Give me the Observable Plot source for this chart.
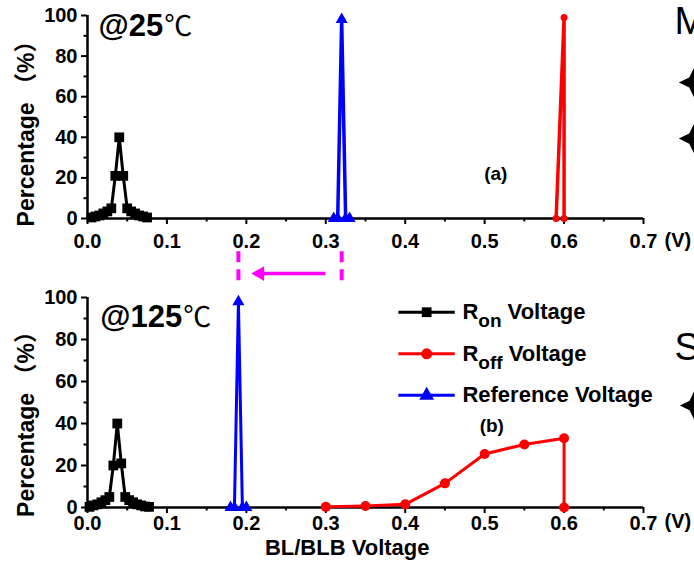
<!DOCTYPE html>
<html><head><meta charset="utf-8">
<script src="https://cdn.jsdelivr.net/npm/d3@7"></script>
<script src="https://cdn.jsdelivr.net/npm/@observablehq/plot@0.6"></script>
<style>
html,body{margin:0;padding:0;background:#fff;overflow:hidden;}
#wrap{position:relative;width:694px;height:561px;overflow:hidden;background:#fff;}
#wrap svg{position:absolute;left:0;}
</style></head><body><div id="wrap"></div>
<script>
// ---- ticks ----
const xTicks = [0, 0.1, 0.2, 0.3, 0.4, 0.5, 0.6, 0.7];
const xMinor = [0.05, 0.15, 0.25, 0.35, 0.45, 0.55, 0.65];
const yTicks = [0, 20, 40, 60, 80, 100];
const yMinor = [10, 30, 50, 70, 90];

// ---- (a) @25℃ ----
const ron25X = [0.005, 0.01, 0.015, 0.02, 0.025, 0.03, 0.035, 0.04, 0.045, 0.05, 0.055, 0.06, 0.065, 0.07, 0.075];
const ron25Y = [0.5, 1, 1.5, 2.5, 3.5, 5, 21, 40, 21, 5, 3.5, 2.5, 1.5, 1, 0.5];
const roff25X = [0.59, 0.6, 0.6];
const roff25Y = [0, 99, 0];
const ref25X = [0.31, 0.315, 0.32, 0.325, 0.33];
const ref25Y = [0, 0, 98, 0, 0];

// ---- (b) @125℃ ----
const ron125X = [0.0025, 0.0075, 0.0125, 0.0175, 0.0225, 0.0275, 0.0325, 0.0375, 0.0425, 0.0475, 0.0525, 0.0575, 0.0625, 0.0675, 0.0725, 0.0775];
const ron125Y = [0.3, 1, 1.5, 2.5, 3.5, 5, 20, 40, 21, 5, 3.5, 2.5, 1.5, 1, 0.5, 0.3];
const roff125X = [0.3, 0.35, 0.4, 0.45, 0.5, 0.55, 0.6, 0.6];
const roff125Y = [0.3, 0.7, 1.5, 11.5, 25.5, 30, 33, 0];
const ref125X = [0.18, 0.185, 0.19, 0.195, 0.2];
const ref125Y = [0, 0, 98, 0, 0];

// ---- legend / labels ----
const legendNames = ["R_on Voltage", "R_off Voltage", "Reference Voltage"];
const legendColors = ["#000000", "#ff0000", "#0000ff"];
const legendSymbols = ["square", "circle", "triangle"];
const tempLabels = ["@25℃", "@125℃"];
const panelTags = ["(a)", "(b)"];
const yTitle = "Percentage （%）";
const xTitle = "BL/BLB Voltage";
const unitLabel = "(V)";
const shiftFrom = 0.32, shiftTo = 0.19;

const FONT = "'Liberation Sans', Arial, 'Noto Sans CJK SC', sans-serif";
const pts = (xs, ys) => xs.map((x, i) => ({x, y: ys[i]}));

// four-pointed bullet star (slide fragment at the right edge)
const star4 = {
  draw(context, size) {
    const R = Math.sqrt(size / Math.PI), k = R * 0.33;
    context.moveTo(R, 0); context.lineTo(k, k); context.lineTo(0, R); context.lineTo(-k, k);
    context.lineTo(-R, 0); context.lineTo(-k, -k); context.lineTo(0, -R); context.lineTo(k, -k);
    context.closePath();
  }
};

function seriesMarks(data, color, symbol, r, sw) {
  return [
    Plot.line(data, {x: "x", y: "y", stroke: color, strokeWidth: sw}),
    Plot.dot(data, {x: "x", y: "y", symbol, r, fill: color})
  ];
}

function axes(tickPad, unitDy) {
  return [
    Plot.axisX(xMinor, {tickSize: 3.5, tickFormat: () => "", strokeWidth: 2, label: null}),
    Plot.axisX(xTicks, {tickSize: 6, tickPadding: tickPad, tickFormat: d => d.toFixed(1), fontSize: 20, fontWeight: "bold", strokeWidth: 2, label: null}),
    Plot.axisY(yMinor, {tickSize: 3.5, tickFormat: () => "", strokeWidth: 2, label: null}),
    Plot.axisY(yTicks, {tickSize: 6, tickPadding: 4, tickFormat: d => String(d), fontSize: 20, fontWeight: "bold", strokeWidth: 2, label: null}),
    Plot.ruleY([0], {stroke: "black", strokeWidth: 2.5}),
    Plot.ruleX([0], {stroke: "black", strokeWidth: 2.5}),
    Plot.text([unitLabel], {x: () => 0.7, y: () => 0, text: d => d, dx: 21, dy: unitDy, textAnchor: "start", fontSize: 20, fontWeight: "bold"})
  ];
}

function decorate(svg) {
  const ns = "http://www.w3.org/2000/svg";
  svg.querySelectorAll("text").forEach(t => {
    const s = t.textContent;
    const m = s.match(/^R_(\w+) (.+)$/);
    if (m) {
      t.textContent = "R";
      const a = document.createElementNS(ns, "tspan");
      a.setAttribute("dy", "8"); a.setAttribute("font-size", "19"); a.textContent = m[1];
      const b = document.createElementNS(ns, "tspan");
      b.setAttribute("dy", "-8"); b.textContent = " " + m[2];
      t.append(a, b);
    } else if (s.includes("℃")) {
      t.textContent = s.replace("℃", "");
      const c = document.createElementNS(ns, "tspan");
      c.setAttribute("font-weight", "normal");
      c.setAttribute("font-family", "'Noto Sans CJK SC'");
      c.setAttribute("font-size", "28");
      c.setAttribute("dx", "1");
      c.textContent = "℃";
      t.append(c);
    }
  });
  return svg;
}

const wrap = document.getElementById("wrap");

// ---------- top panel ----------
const topPlot = Plot.plot({
  width: 694, height: 250,
  marginLeft: 87, marginRight: 51, marginTop: 15, marginBottom: 32,
  x: {domain: [0, 0.7]}, y: {domain: [0, 100]},
  style: {fontFamily: FONT, background: "transparent", color: "black", overflow: "visible"},
  marks: [
    ...axes(9, 22),
    ...seriesMarks(pts(ron25X, ron25Y), legendColors[0], "square", 5.5, 3),
    ...seriesMarks(pts(ref25X, ref25Y), legendColors[2], "triangle", 4.5, 3.5),
    ...seriesMarks(pts(roff25X, roff25Y), legendColors[1], "circle", 3.5, 3.5),
    Plot.text([yTitle], {frameAnchor: "left", text: d => d, rotate: -90, textAnchor: "middle", dx: -61, dy: 11, fontSize: 23, fontWeight: "bold"}),
    Plot.text([tempLabels[0]], {x: () => 0.014, y: () => 95, text: d => d, textAnchor: "start", fontSize: 31, fontWeight: "bold"}),
    Plot.text([panelTags[0]], {x: () => 0.514, y: () => 22, text: d => d, fontSize: 19, fontWeight: "bold"}),
    Plot.text(["M"], {x: () => 0.739, y: () => 97, text: d => d, textAnchor: "start", fontSize: 38, fontWeight: "normal"}),
    Plot.dot([67, 39.4], {x: () => 0.764, y: d => d, symbol: star4, r: 15.5, fill: "black"})
  ]
});
topPlot.style.top = "0px";
wrap.appendChild(decorate(topPlot));

// ---------- bottom panel ----------
const legRows = legendNames.map((name, i) => ({name, color: legendColors[i], symbol: legendSymbols[i], y: 93 - i * 19.8}));
const legendMarks = legRows.flatMap(r => [
  Plot.ruleY([r], {y: "y", x1: () => 0.392, x2: () => 0.463, stroke: r.color, strokeWidth: 3}),
  Plot.dot([r], {x: () => 0.427, y: "y", symbol: r.symbol, r: 5.5, fill: r.color}),
  Plot.text([r], {x: () => 0.472, y: "y", text: "name", textAnchor: "start", fontSize: 22, fontWeight: "bold"})
]);

const bottomPlot = Plot.plot({
  width: 694, height: 311,
  marginLeft: 87, marginRight: 51, marginTop: 47, marginBottom: 54,
  x: {domain: [0, 0.7]}, y: {domain: [0, 100]},
  style: {fontFamily: FONT, background: "transparent", color: "black", overflow: "visible"},
  marks: [
    ...axes(2, 14),
    ...seriesMarks(pts(ron125X, ron125Y), legendColors[0], "square", 5.5, 3),
    ...seriesMarks(pts(ref125X, ref125Y), legendColors[2], "triangle", 4.5, 3),
    ...seriesMarks(pts(roff125X, roff125Y), legendColors[1], "circle", 5, 3),
    ...legendMarks,
    Plot.ruleX([shiftTo, shiftFrom], {x: d => d, y1: () => 108, y2: () => 122, stroke: "#ff00ff", strokeWidth: 4, strokeDasharray: "11,7"}),
    Plot.ruleY([111.4], {y: d => d, x1: () => shiftFrom - 0.02, x2: () => shiftTo + 0.03, stroke: "#ff00ff", strokeWidth: 3.5}),
    Plot.dot([111.4], {x: () => shiftTo + 0.027, y: d => d, symbol: "triangle", r: 5.5, rotate: -90, fill: "#ff00ff"}),
    Plot.text([yTitle], {frameAnchor: "left", text: d => d, rotate: -90, textAnchor: "middle", dx: -61, dy: 16, fontSize: 23, fontWeight: "bold"}),
    Plot.text([xTitle], {x: () => 0.327, y: () => 0, text: d => d, dy: 40, fontSize: 22, fontWeight: "bold"}),
    Plot.text([tempLabels[1]], {x: () => 0.016, y: () => 90.5, text: d => d, textAnchor: "start", fontSize: 31, fontWeight: "bold"}),
    Plot.text([panelTags[1]], {x: () => 0.509, y: () => 39, text: d => d, fontSize: 19, fontWeight: "bold"}),
    Plot.text(["S"], {x: () => 0.739, y: () => 76.2, text: d => d, textAnchor: "start", fontSize: 38, fontWeight: "normal"}),
    Plot.dot([48.6], {x: () => 0.764, y: d => d, symbol: star4, r: 14.5, fill: "black"})
  ]
});
bottomPlot.style.top = "250px";
wrap.appendChild(decorate(bottomPlot));
</script></body></html>
